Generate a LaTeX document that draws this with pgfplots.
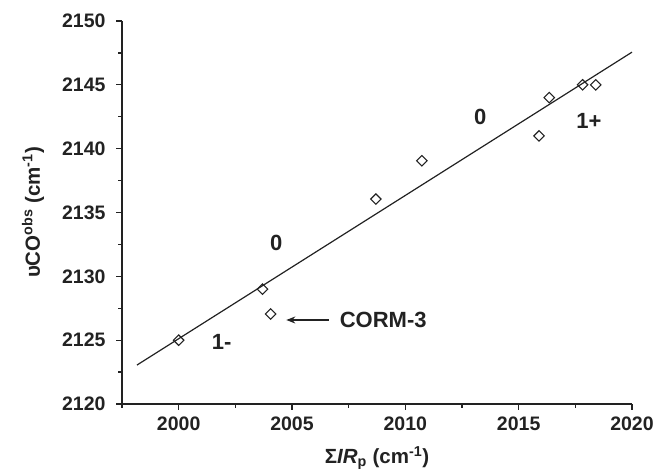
\documentclass[border=0pt]{standalone}
\usepackage{fontspec}
\setmainfont{Liberation Sans}
\usepackage{pgfplots}
\pgfplotsset{compat=1.18}
\usetikzlibrary{arrows.meta}
\definecolor{ink}{HTML}{222222}
\begin{document}
\begin{tikzpicture}
\useasboundingbox (-122pt,-69pt) rectangle (533pt,404pt);
\begin{axis}[
  at={(0pt,0pt)}, anchor=south west,
  scale only axis, width=510pt, height=383pt,
  xmin=1997.5, xmax=2020, ymin=2120, ymax=2150,
  axis lines=left,
  axis line style={-, line width=1.3pt, ink},
  xtick={2000,2005,...,2020}, ytick={2120,2125,...,2150},
  minor xtick={1997.5,2002.5,...,2017.5},
  minor ytick={2122.5,2127.5,...,2147.5},
  tick align=outside,
  major tick length=6pt, minor tick length=4pt,
  every tick/.style={line width=1.2pt, ink},
  tick label style={font=\fontsize{19.5}{22}\selectfont\bfseries, text=ink},
  /pgf/number format/assume math mode=true,
  /pgf/number format/1000 sep={},
  xticklabel style={yshift=-3pt},
  yticklabel style={xshift=-7pt},
  xlabel={\bfseries Σ\textit{IR}\textsubscript{p} (cm\textsuperscript{-1})},
  ylabel={\bfseries υCO\textsuperscript{obs} (cm\textsuperscript{-1})},
  label style={font=\fontsize{20.5}{23}\selectfont, text=ink},
  xlabel style={yshift=-9pt},
  ylabel style={yshift=11pt},
  clip=false,
]
\addplot[ink, line width=1.2pt] coordinates {(1998.16,2123.05) (2020,2147.56)};
\addplot[only marks, mark=square, mark size=3.7pt,
  mark options={rotate=45, line width=1.1pt, ink, fill=white}] coordinates {
  (2000.0,2125.0)
  (2003.7,2129.0)
  (2004.06,2127.05)
  (2008.7,2136.05)
  (2010.73,2139.05)
  (2015.9,2141.0)
  (2016.35,2144.0)
  (2017.82,2145.0)
  (2018.4,2145.0)
};
\node[font=\fontsize{22}{25}\selectfont\bfseries, text=ink] at (axis cs:2004.3,2132.63) {0};
\node[font=\fontsize{22}{25}\selectfont\bfseries, text=ink] at (axis cs:2013.3,2142.45) {0};
\node[font=\fontsize{22}{25}\selectfont\bfseries, text=ink] at (axis cs:2001.9,2124.9) {1-};
\node[font=\fontsize{22}{25}\selectfont\bfseries, text=ink] at (axis cs:2018.1,2142.2) {1+};
\draw[-{Stealth[length=9pt,width=7pt]}, line width=1.2pt, ink] (axis cs:2006.63,2126.58) -- (axis cs:2004.75,2126.58);
\node[anchor=west, inner sep=0pt, font=\fontsize{22}{25}\selectfont\bfseries, text=ink] at (axis cs:2007.1,2126.58) {CORM-3};
\end{axis}
\end{tikzpicture}
\end{document}
